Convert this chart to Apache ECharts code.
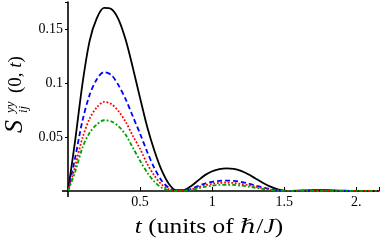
<!DOCTYPE html>
<html>
<head>
<meta charset="utf-8">
<script src="https://cdn.jsdelivr.net/npm/echarts@6/dist/echarts.min.js"></script>
<style>
html,body{margin:0;padding:0;background:#fff;}
#c{width:382px;height:243px;}
</style>
</head>
<body>
<div id="c"></div>
<script>
var tVals = [0,0.05,0.1,0.15,0.2,0.25,0.3,0.35,0.4,0.45,0.5,0.55,0.6,0.65,0.7,0.75,0.8,0.85,0.9,0.95,1.0,1.05,1.1,1.15,1.2,1.25,1.3,1.35,1.4,1.45,1.5,1.55,1.6,1.65,1.7,1.75,1.8,1.85,1.9,1.95,2.0,2.05,2.1,2.157];
var blackVals = [0,0.047,0.099,0.139,0.160,0.1695,0.1685,0.159,0.140,0.114,0.086,0.059,0.037,0.019,0.0065,0.0007,0.0007,0.0042,0.0095,0.0147,0.0183,0.0203,0.0210,0.0205,0.0186,0.0155,0.0116,0.0077,0.0043,0.0018,0.0004,0.0001,0.0003,0.0006,0.0008,0.0008,0.0007,0.0005,0.0003,0.0002,0.0001,0.0001,0.0001,0.0001];
var blueVals = [0,0.031,0.065,0.089,0.1035,0.110,0.1075,0.098,0.085,0.069,0.053,0.036,0.021,0.0095,0.0028,0.0002,0.0003,0.0018,0.0045,0.0069,0.0085,0.0094,0.0096,0.0093,0.0084,0.0069,0.0051,0.0033,0.0018,0.0007,0.0002,0.0001,0.0001,0.0002,0.0003,0.0003,0.0003,0.0002,0.0001,0.0001,0.0001,0.0001,0.0001,0.0001];
var redVals = [0,0.023,0.049,0.067,0.0775,0.0825,0.0805,0.074,0.064,0.051,0.039,0.025,0.014,0.006,0.0016,0.0001,0.0002,0.0013,0.0033,0.0053,0.0067,0.0075,0.0077,0.0074,0.0066,0.0054,0.0040,0.0026,0.0014,0.0006,0.0002,0.0001,0.0001,0.0001,0.0002,0.0002,0.0002,0.0001,0.0001,0.0001,0.0001,0.0001,0.0001,0.0001];
var greenVals = [0,0.018,0.040,0.054,0.0615,0.0655,0.0645,0.060,0.052,0.040,0.028,0.017,0.0085,0.003,0.0007,0,0.0001,0.0009,0.0024,0.0039,0.0050,0.0056,0.0058,0.0056,0.0050,0.0041,0.0030,0.0019,0.0010,0.0004,0.0001,0.0001,0.0001,0.0001,0.0001,0.0001,0.0001,0.0001,0.0001,0.0001,0.0001,0.0001,0.0001,0.0001];
var xTicks = [0.5,1,1.5,2];
var xTickLabels = ['0.5','1','1.5','2.'];
var yTicks = [0.05,0.1,0.15];
var yTickLabels = ['0.05','0.1','0.15'];

function pairs(vals){ return tVals.map(function(t,i){ return [t, vals[i]]; }); }
function lab(ticks, labels){ return function(v){ for (var i=0;i<ticks.length;i++){ if (Math.abs(v-ticks[i])<1e-9) return labels[i]; } return ''; }; }
var FONT = "'Liberation Serif','DejaVu Serif',serif";

var chart = echarts.init(document.getElementById('c'), null, {renderer:'canvas'});
function mk(name, vals, color, type, width){
  return {name:name, type:'line', data:pairs(vals), showSymbol:false, smooth:0.3,
    lineStyle:{color:color, width:width, type:type, cap:'butt'}, animation:false, z:2};
}
chart.setOption({
  animation:false,
  grid:{left:68, right:0, top:2, bottom:52, containLabel:false},
  xAxis:{type:'value', min:0, max:2.157, interval:0.5,
    axisLine:{onZero:false, lineStyle:{color:'#000', width:1.6}},
    axisTick:{inside:true, length:4, lineStyle:{color:'#000', width:1}},
    axisLabel:{margin:4, color:'#000', fontFamily:FONT, fontSize:14, showMinLabel:false, formatter:lab(xTicks, xTickLabels)},
    splitLine:{show:false}},
  yAxis:{type:'value', min:0, max:0.175, interval:0.05,
    axisLine:{onZero:false, lineStyle:{color:'#000', width:1.6}},
    axisTick:{inside:false, length:3, lineStyle:{color:'#000', width:1}},
    axisLabel:{margin:5, color:'#000', fontFamily:FONT, fontSize:14, showMinLabel:false, formatter:lab(yTicks, yTickLabels)},
    splitLine:{show:false}},
  series:[
    mk('black', blackVals, '#000000', 'solid', 1.8),
    mk('blue', blueVals, '#0000ff', [5,3], 1.8),
    mk('red', redVals, '#ff0000', [1.8,1.8], 1.8),
    mk('green', greenVals, '#00a000', [4,2,1.8,2], 1.8)
  ]
});
// crossing axes: extend the axis lines past the origin, located via the library's scales
var o = chart.convertToPixel({gridIndex:0}, [0, 0]);
chart.setOption({graphic:[
  {id:'xext', type:'line', silent:true, z:10, shape:{x1:o[0]-6, y1:o[1], x2:o[0], y2:o[1]}, style:{stroke:'#000', lineWidth:1.6}},
  {id:'yext', type:'line', silent:true, z:10, shape:{x1:o[0], y1:o[1], x2:o[0], y2:o[1]+6}, style:{stroke:'#000', lineWidth:1.6}},
  {id:'xname', type:'text', x:209, y:228, scaleX:1.27, silent:true,
    style:{text:'{i|t} (units of {i|ℏ}/{i|J})', font:"20px "+FONT, fill:'#000',
      textAlign:'center', textVerticalAlign:'middle', align:'center', verticalAlign:'middle',
      rich:{i:{fontStyle:'italic', fontSize:20, fontFamily:FONT}}}},
  {id:'yname', type:'group', x:16, y:133, rotation:Math.PI/2, silent:true, children:[
    {type:'text', x:0, y:-1, style:{text:'S', font:"italic 26px "+FONT, fill:'#000', textAlign:'left', textVerticalAlign:'middle', align:'left', verticalAlign:'middle'}},
    {type:'text', x:20, y:-5, style:{text:'yy', font:"italic 13px "+FONT, fill:'#000', textAlign:'left', textVerticalAlign:'middle', align:'left', verticalAlign:'middle'}},
    {type:'text', x:20, y:8, style:{text:'ij', font:"italic 13px "+FONT, fill:'#000', textAlign:'left', textVerticalAlign:'middle', align:'left', verticalAlign:'middle'}},
    {type:'text', x:40, y:0, style:{text:'(0, {i|t})', font:"19px "+FONT, fill:'#000', textAlign:'left', textVerticalAlign:'middle', align:'left', verticalAlign:'middle', rich:{i:{fontStyle:'italic', fontSize:19, fontFamily:FONT}}}}
  ]}
]});
</script>
</body>
</html>
